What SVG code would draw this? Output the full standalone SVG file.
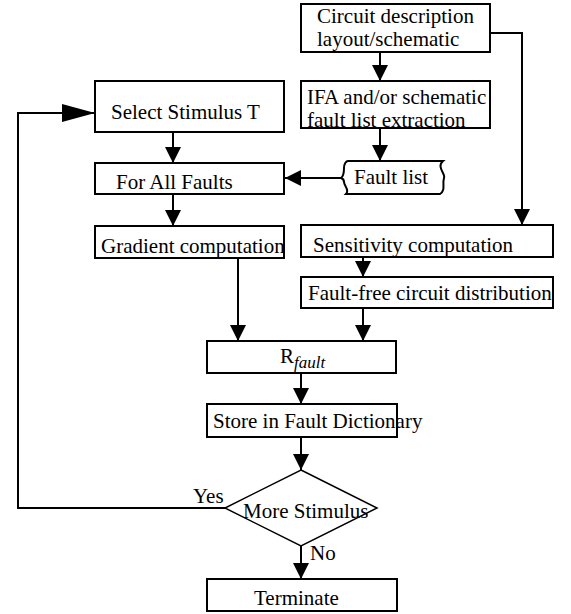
<svg xmlns="http://www.w3.org/2000/svg" width="571" height="614" viewBox="0 0 571 614">
<style>
.box{fill:#fff;stroke:#000;stroke-width:2}
.ln{fill:none;stroke:#000;stroke-width:2}
.t{font-size:21px;fill:#000}
.sub{font-size:17px;font-style:italic;fill:#000}
</style>
<defs>
<marker id="ah" markerUnits="userSpaceOnUse" markerWidth="16" markerHeight="16" refX="16" refY="8" orient="auto">
<path d="M0,0 L16,8 L0,16 Z" fill="#000"/>
</marker>
<marker id="ahBig" markerUnits="userSpaceOnUse" markerWidth="33" markerHeight="18" refX="33" refY="9" orient="auto">
<path d="M0,0 L33,9 L0,18 Z" fill="#000"/>
</marker>
</defs>
<rect width="571" height="614" fill="#fff"/>
<g font-family="Times New Roman, Liberation Serif, DejaVu Serif, serif">
<g id="connectors">
<path class="ln" d="M380,52 V81" marker-end="url(#ah)"/>
<path class="ln" d="M380,128 V161" marker-end="url(#ah)"/>
<path class="ln" d="M342,178 H285" marker-end="url(#ah)"/>
<path class="ln" d="M490,33 H522 V225" marker-end="url(#ah)"/>
<path class="ln" d="M173,132 V163" marker-end="url(#ah)"/>
<path class="ln" d="M173,194 V226" marker-end="url(#ah)"/>
<path class="ln" d="M238,258 V341" marker-end="url(#ah)"/>
<path class="ln" d="M363,257 V277" marker-end="url(#ah)"/>
<path class="ln" d="M363,308 V341" marker-end="url(#ah)"/>
<path class="ln" d="M301,373 V404" marker-end="url(#ah)"/>
<path class="ln" d="M301,437 V470" marker-end="url(#ah)"/>
<path class="ln" d="M301,546 V579" marker-end="url(#ah)"/>
<path class="ln" d="M225,508 H18 V113 H95" marker-end="url(#ahBig)"/>
<text class="t" x="193" y="503">Yes</text>
<text class="t" x="310" y="560">No</text>
</g>
<g id="circuit">
<rect class="box" x="301" y="4" width="189" height="48"/>
<text class="t" x="317" y="23">Circuit description</text>
<text class="t" x="317" y="46">layout/schematic</text>
</g>
<g id="ifa">
<rect class="box" x="301" y="81" width="189" height="47"/>
<text class="t" x="307" y="104">IFA and/or schematic</text>
<text class="t" x="307" y="127">fault list extraction</text>
</g>
<g id="faultlist">
<path class="box" d="M348,161 H443 C436,167 446,174 444,178 C442,184 446,190 440,194 H346 C350,190 344,186 344,182 C344,179 341,178 341,178 C344,176 344,172 344,168 C344,164 346,161 348,161 Z"/>
<text class="t" x="354" y="184">Fault list</text>
</g>
<g id="select">
<rect class="box" x="95" y="81" width="189" height="51"/>
<text class="t" x="111" y="119">Select Stimulus T</text>
</g>
<g id="forall">
<rect class="box" x="95" y="163" width="189" height="31"/>
<text class="t" x="116" y="189">For All Faults</text>
</g>
<g id="gradient">
<rect class="box" x="95" y="226" width="189" height="32"/>
<text class="t" x="101" y="253">Gradient computation</text>
</g>
<g id="sensitivity">
<rect class="box" x="301" y="225" width="252" height="32"/>
<text class="t" x="313" y="252">Sensitivity computation</text>
</g>
<g id="faultfree">
<rect class="box" x="301" y="277" width="252" height="31"/>
<text class="t" x="308" y="300">Fault-free circuit distribution</text>
</g>
<g id="rfault">
<rect class="box" x="207" y="341" width="189" height="32"/>
<text class="t" x="280" y="363">R<tspan class="sub" dy="5">fault</tspan></text>
</g>
<g id="store">
<rect class="box" x="207" y="404" width="190" height="33"/>
<text class="t" x="213" y="428">Store in Fault Dictionary</text>
</g>
<g id="decision">
<path class="box" d="M301,470 L377,508 L301,546 L225,508 Z" style="stroke-width:1.5"/>
<text class="t" x="243" y="518">More Stimulus</text>
</g>
<g id="terminate">
<rect class="box" x="207" y="579" width="190" height="32"/>
<text class="t" x="254" y="605">Terminate</text>
</g>
</g>
</svg>
